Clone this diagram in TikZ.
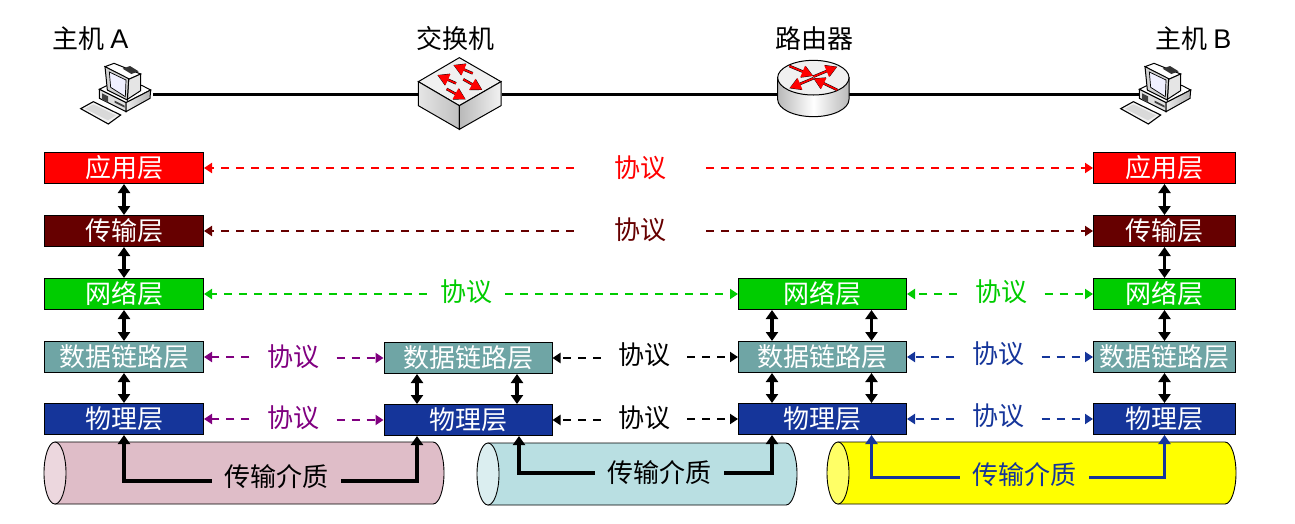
\documentclass[tikz,border=0pt]{standalone}
\usepackage{fontspec}
\setmainfont{Liberation Sans}
\newfontfamily\cjk{Noto Sans CJK SC}
\usetikzlibrary{arrows.meta}
\definecolor{appred}{HTML}{FF0000}
\definecolor{transred}{HTML}{660000}
\definecolor{netgreen}{HTML}{00CC00}
\definecolor{linkteal}{HTML}{6FA5A5}
\definecolor{phyblue}{HTML}{15359A}
\definecolor{linkpurple}{HTML}{800080}
\definecolor{pinkbody}{HTML}{DFBDC8}
\definecolor{pinkend}{HTML}{ECD7DE}
\definecolor{tealbody}{HTML}{B9DFE2}
\definecolor{tealend}{HTML}{DBEEF0}
\definecolor{yellowbody}{HTML}{FFFF00}
\definecolor{yellowend}{HTML}{FFFF66}
\tikzset{
    bigtext/.style={font=\fontsize{26}{26}\selectfont\cjk},
    layer/.style={bigtext,draw=black,line width=1pt,text=white,minimum height=31pt,inner sep=0pt,minimum width=#1},
    protolabel/.style={bigtext,text=#1,inner sep=0pt,minimum height=30pt},
    protoline/.style={-{Triangle[length=8pt,width=10pt]},draw=#1,line width=2.4pt,dash pattern=on 8pt off 7pt},
    updown/.style={{Triangle[length=9pt,width=12pt]}-{Triangle[length=9pt,width=12pt]},line width=3.4pt,black},
    mediumline/.style={-{Triangle[length=9pt,width=12pt]},line width=#1},
    medium/.style={bigtext,inner sep=0pt,minimum width=129pt,minimum height=30pt},
    iconbox/.style={inner sep=0pt,minimum height=10pt,minimum width=#1},
    redarrow/.style={-{Triangle[length=11pt,width=12pt]},line width=#1},
    pics/hostpc/.style={code={
        % case
        \draw[fill=white,line width=1pt] (208,238) -- (232,226) -- (335,226) -- (362,240) -- (288,278) -- cycle;
        \draw[fill=gray!25,line width=1pt] (208,238) -- (288,278) -- (288,305) -- (208,265) -- cycle;
        \draw[left color=gray!15,right color=gray!60,line width=1pt] (288,278) -- (362,240) -- (360,265) -- (288,305) -- cycle;
        \fill[black!75] (216,250) -- (234,259) -- (234,278) -- (216,269) -- cycle;
        \fill[black!75] (254,272) -- (284,287) -- (284,293) -- (254,278) -- cycle;
        % monitor
        \draw[fill=white,line width=1pt] (225,170) -- (252,160) -- (332,192) -- (296,208) -- cycle;
        \draw[fill=gray!20,line width=1pt] (296,208) -- (332,192) -- (332,242) -- (292,268) -- cycle;
        \draw[fill=gray!35,line width=1pt] (225,170) -- (296,206) -- (292,270) -- (232,240) -- cycle;
        \draw[fill=blue!6,line width=.7pt] (238,186) -- (288,210) -- (286,260) -- (242,232) -- cycle;
        \fill[black!80] (278,176) -- (300,168) -- (326,184) -- (304,192) -- cycle;
        % keyboard
        \draw[fill=gray!10,line width=1.1pt] (152,296) -- (190,275) -- (272,315) -- (235,342) -- cycle;
        \fill[gray!30] (165,296) -- (190,283) -- (258,316) -- (234,331) -- cycle;
    }},
    pics/switchbox/.style={code={
        \draw[fill=gray!12,line width=1pt] (55,215) -- (178,143) -- (303,215) -- (178,287) -- cycle;
        \draw[left color=gray!20,right color=gray!50,line width=1pt] (55,215) -- (178,287) -- (178,358) -- (55,287) -- cycle;
        \draw[left color=gray!55,right color=gray!10,line width=1pt] (178,287) -- (303,215) -- (303,287) -- (178,358) -- cycle;
        \foreach \xa/\ya/\xb/\yb in {218/190/160/165,168/220/112/195,190/208/247/240,140/237/197/268}{
            \draw[redarrow=2.6pt,black] (\xa,\ya) -- (\xb,\yb);
            \draw[redarrow=1.7pt,red,shorten >=.6pt] (\xa,\ya) -- (\xb,\yb);
        }
    }},
    pics/routerbox/.style={code={
        \draw[left color=gray!55,right color=gray!55,middle color=white,line width=1pt] (1133,203) -- (1133,268) arc[start angle=180,end angle=0,x radius=107,y radius=52] -- (1347,203) -- cycle;
        \draw[fill=gray!12,line width=1pt] (1240,203) ellipse[x radius=107,y radius=52];
        \foreach \xa/\ya/\xb/\yb in {1168/168/1240/198,1240/200/1312/170,1312/240/1240/205,1240/205/1168/235}{
            \draw[redarrow=2.6pt,black] (\xa,\ya) -- (\xb,\yb);
            \draw[redarrow=1.7pt,red,shorten >=.6pt] (\xa,\ya) -- (\xb,\yb);
        }
    }}
}
% left, right, top, bottom, body colour, end colour
\newcommand{\cablepipe}[6]{
    \draw[fill=#5,line width=.9pt] (#1+11,#3) -- (#2-11,#3) arc[start angle=-90,end angle=90,x radius=11,y radius=31] -- (#1+11,#4) -- cycle;
    \draw[fill=#6,line width=.9pt] (#1+11,#3+31) ellipse[x radius=11,y radius=31];
}
\begin{document}
\begin{tikzpicture}[x=1pt,y=-1pt]
    \useasboundingbox (0,0) rectangle (1295,523);
    % cables
    \cablepipe{44}{444}{442}{504}{pinkbody}{pinkend}
    \cablepipe{477}{797}{443}{505}{tealbody}{tealend}
    \cablepipe{827}{1236}{442}{504}{yellowbody}{yellowend}
    % top row
    \node[bigtext] (nameA) at (90.5,39) {主机 {\fontsize{27}{27}\selectfont\rmfamily A}};
    \node[bigtext] (nameS) at (455,39) {交换机};
    \node[bigtext] (nameR) at (814,39) {路由器};
    \node[bigtext] (nameB) at (1193.5,39) {主机 {\fontsize{27}{27}\selectfont\rmfamily B}};
    \node[iconbox=60pt] (hostA) at (122.7,94) {};
    \node[iconbox=83pt] (switch) at (460,94) {};
    \node[iconbox=71pt] (router) at (813.5,94) {};
    \node[iconbox=40pt] (hostB) at (1160,94) {};
    \draw[line width=3pt] (hostA) -- (switch) -- (router) -- (hostB);
    \pic[scale=1/3] at (30,10) {hostpc};
    \pic[scale=1/3] at (1070,10) {hostpc};
    \pic[scale=1/3] at (400,10) {switchbox};
    \pic[scale=1/3] at (400,10) {routerbox};
    % host A
    \node[layer=159pt,fill=appred] (appA) at (124,168) {应用层};
    \node[layer=159pt,fill=transred] (transA) at (124,231) {传输层};
    \node[layer=159pt,fill=netgreen] (netA) at (124,294) {网络层};
    \node[layer=159pt,fill=linkteal] (linkA) at (124,357) {数据链路层};
    \node[layer=159pt,fill=phyblue] (phyA) at (124,419) {物理层};
    % switch
    \node[layer=168pt,fill=linkteal] (linkS) at (468,358) {数据链路层};
    \node[layer=168pt,fill=phyblue] (phyS) at (468,420) {物理层};
    % router
    \node[layer=168pt,fill=netgreen] (netR) at (822.5,294) {网络层};
    \node[layer=168pt,fill=linkteal] (linkR) at (822.5,357) {数据链路层};
    \node[layer=168pt,fill=phyblue] (phyR) at (822.5,419) {物理层};
    % host B
    \node[layer=142pt,fill=appred] (appB) at (1164.5,168) {应用层};
    \node[layer=142pt,fill=transred] (transB) at (1164.5,231) {传输层};
    \node[layer=142pt,fill=netgreen] (netB) at (1164.5,294) {网络层};
    \node[layer=142pt,fill=linkteal] (linkB) at (1164.5,357) {数据链路层};
    \node[layer=142pt,fill=phyblue] (phyB) at (1164.5,419) {物理层};
    % vertical arrows
    \draw[updown] (appA) -- (transA);
    \draw[updown] (transA) -- (netA);
    \draw[updown] (netA) -- (linkA);
    \draw[updown] (linkA) -- (phyA);
    \draw[updown] (appB) -- (transB);
    \draw[updown] (transB) -- (netB);
    \draw[updown] (netB) -- (linkB);
    \draw[updown] (linkB) -- (phyB);
    \draw[updown] ([xshift=-51pt]linkS.south) -- ([xshift=-51pt]phyS.north);
    \draw[updown] ([xshift=49pt]linkS.south) -- ([xshift=49pt]phyS.north);
    \draw[updown] ([xshift=-50.5pt]netR.south) -- ([xshift=-50.5pt]linkR.north);
    \draw[updown] ([xshift=49pt]netR.south) -- ([xshift=49pt]linkR.north);
    \draw[updown] ([xshift=-50.5pt]linkR.south) -- ([xshift=-50.5pt]phyR.north);
    \draw[updown] ([xshift=49pt]linkR.south) -- ([xshift=49pt]phyR.north);
    % protocol labels
    \node[protolabel=appred,minimum width=132pt] (protoApp) at (640,168) {协议};
    \node[protolabel=transred,minimum width=132pt] (protoTrans) at (640,230) {协议};
    \node[protolabel=netgreen,minimum width=78pt] (protoNetL) at (466,292) {协议};
    \node[protolabel=netgreen,minimum width=87pt] (protoNetR) at (1001,292) {协议};
    \node[protolabel=linkpurple,minimum width=87pt] (protoLinkL) at (293,357) {协议};
    \node[protolabel=linkpurple,minimum width=87pt] (protoPhyL) at (293,418) {协议};
    \node[protolabel=black,minimum width=86pt] (protoLinkM) at (644,355) {协议};
    \node[protolabel=black,minimum width=86pt] (protoPhyM) at (644,418) {协议};
    \node[protolabel=phyblue,minimum width=87pt] (protoLinkR) at (998,354) {协议};
    \node[protolabel=phyblue,minimum width=87pt] (protoPhyR) at (998,416) {协议};
    % protocol lines
    \draw[protoline=appred] (appA.east -| protoApp.west) -- (appA.east);
    \draw[protoline=appred] (appB.west -| protoApp.east) -- (appB.west);
    \draw[protoline=transred] (transA.east -| protoTrans.west) -- (transA.east);
    \draw[protoline=transred] (transB.west -| protoTrans.east) -- (transB.west);
    \draw[protoline=netgreen] (netA.east -| protoNetL.west) -- (netA.east);
    \draw[protoline=netgreen] (netR.west -| protoNetL.east) -- (netR.west);
    \draw[protoline=netgreen] (netR.east -| protoNetR.west) -- (netR.east);
    \draw[protoline=netgreen] (netB.west -| protoNetR.east) -- (netB.west);
    \draw[protoline=linkpurple] (linkA.east -| protoLinkL.west) -- (linkA.east);
    \draw[protoline=linkpurple] (linkS.west -| protoLinkL.east) -- (linkS.west);
    \draw[protoline=linkpurple] (phyA.east -| protoPhyL.west) -- (phyA.east);
    \draw[protoline=linkpurple] (phyS.west -| protoPhyL.east) -- (phyS.west);
    \draw[protoline=black] (linkS.east -| protoLinkM.west) -- (linkS.east);
    \draw[protoline=black] (linkR.west -| protoLinkM.east) -- (linkR.west);
    \draw[protoline=black] (phyS.east -| protoPhyM.west) -- (phyS.east);
    \draw[protoline=black] (phyR.west -| protoPhyM.east) -- (phyR.west);
    \draw[protoline=phyblue] (linkR.east -| protoLinkR.west) -- (linkR.east);
    \draw[protoline=phyblue] (linkB.west -| protoLinkR.east) -- (linkB.west);
    \draw[protoline=phyblue] (phyR.east -| protoPhyR.west) -- (phyR.east);
    \draw[protoline=phyblue] (phyB.west -| protoPhyR.east) -- (phyB.west);
    % media
    \node[medium] (mediumA) at (276.5,477) {传输介质};
    \node[medium] (mediumM) at (659.5,473) {传输介质};
    \node[medium,text=phyblue] (mediumB) at (1024.5,475) {传输介质};
    \draw[mediumline=3.6pt] ([yshift=-4pt]mediumA.west) -| (phyA.south);
    \draw[mediumline=3.6pt] ([yshift=-4pt]mediumA.east) -| ([xshift=-51pt]phyS.south);
    \draw[mediumline=3.6pt] (mediumM.west) -| ([xshift=51pt]phyS.south);
    \draw[mediumline=3.6pt] (mediumM.east) -| ([xshift=-50.5pt]phyR.south);
    \draw[mediumline=3pt,phyblue] ([yshift=-2pt]mediumB.west) -| ([xshift=49pt]phyR.south);
    \draw[mediumline=3pt,phyblue] ([yshift=-2pt]mediumB.east) -| (phyB.south);
\end{tikzpicture}
\end{document}
